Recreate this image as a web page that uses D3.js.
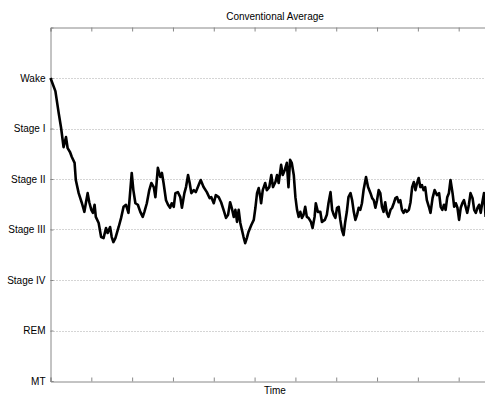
<!DOCTYPE html>
<html>
<head>
<meta charset="utf-8">
<script src="https://cdn.jsdelivr.net/npm/d3@7"></script>
<style>
  body { margin: 0; background: #fff; }
  svg { display: block; font-family: "Liberation Sans", Arial, sans-serif; }
</style>
</head>
<body>
<div id="svgRoot"></div>
<script>
// sleep stage levels, bottom to top
const stageLabels = ["MT", "REM", "Stage IV", "Stage III", "Stage II", "Stage I", "Wake"];
const timeTicks = [0, 1, 2, 3, 4, 5, 6, 7, 8, 9, 10, 11];

// averaged hypnogram, time (hours) and stage level
const time = [0, 0.12, 0.2, 0.26, 0.32, 0.38, 0.42, 0.48, 0.52, 0.59, 0.62, 0.69, 0.77, 0.83, 0.87, 0.91, 0.95, 1.0, 1.04, 1.08,
  1.11, 1.18, 1.24, 1.3, 1.36, 1.4, 1.46, 1.5, 1.54, 1.59, 1.67, 1.73, 1.79, 1.85, 1.91, 1.99, 2.03, 2.08, 2.14, 2.2,
  2.26, 2.3, 2.36, 2.42, 2.47, 2.53, 2.57, 2.63, 2.69, 2.73, 2.77, 2.83, 2.88, 2.93, 2.97, 3.02, 3.06, 3.12, 3.18, 3.22,
  3.28, 3.32, 3.37, 3.41, 3.45, 3.51, 3.56, 3.63, 3.68, 3.75, 3.83, 3.9, 3.94, 4.0, 4.05, 4.12, 4.18, 4.24, 4.3, 4.35,
  4.4, 4.44, 4.49, 4.53, 4.57, 4.61, 4.65, 4.69, 4.73, 4.77, 4.81, 4.85, 4.92, 4.98, 5.02, 5.06, 5.1, 5.14, 5.16, 5.2,
  5.26, 5.3, 5.36, 5.41, 5.45, 5.51, 5.55, 5.59, 5.65, 5.69, 5.74, 5.79, 5.83, 5.87, 5.91, 5.96, 6.0, 6.04, 6.08, 6.12,
  6.16, 6.2, 6.24, 6.28, 6.32, 6.38, 6.42, 6.47, 6.5, 6.55, 6.61, 6.65, 6.72, 6.77, 6.81, 6.86, 6.9, 6.94, 6.98, 7.02,
  7.06, 7.1, 7.14, 7.18, 7.22, 7.26, 7.3, 7.35, 7.39, 7.43, 7.47, 7.51, 7.55, 7.59, 7.63, 7.67, 7.73, 7.78, 7.84, 7.88,
  7.92, 7.96, 8.0, 8.04, 8.08, 8.12, 8.16, 8.2, 8.24, 8.28, 8.33, 8.37, 8.41, 8.45, 8.49, 8.53, 8.57, 8.61, 8.65, 8.69,
  8.73, 8.78, 8.82, 8.86, 8.9, 8.94, 8.98, 9.02, 9.06, 9.1, 9.14, 9.18, 9.22, 9.27, 9.31, 9.36, 9.41, 9.47, 9.52, 9.56,
  9.6, 9.64, 9.68, 9.72, 9.76, 9.8, 9.85, 9.89, 9.93, 9.97, 10.01, 10.05, 10.09, 10.13, 10.17, 10.21, 10.25, 10.29, 10.34, 10.38,
  10.42, 10.46, 10.5, 10.54, 10.58, 10.62, 10.66];
const stage = [6.0, 5.74, 5.31, 5.01, 4.63, 4.83, 4.61, 4.53, 4.44, 4.32, 3.98, 3.72, 3.52, 3.35, 3.54, 3.72, 3.54, 3.39, 3.33, 3.49,
  3.25, 3.13, 2.85, 2.83, 3.03, 2.93, 3.05, 2.85, 2.75, 2.83, 3.05, 3.23, 3.45, 3.49, 3.33, 4.12, 3.78, 3.52, 3.49, 3.35,
  3.25, 3.35, 3.52, 3.78, 3.92, 3.84, 3.64, 4.22, 4.04, 4.12, 3.92, 3.58, 3.49, 3.43, 3.52, 3.45, 3.72, 3.74, 3.64, 3.43,
  3.72, 3.84, 4.08, 3.92, 3.72, 3.78, 3.74, 3.88, 3.98, 3.84, 3.74, 3.62, 3.64, 3.52, 3.68, 3.64, 3.54, 3.39, 3.23, 3.29,
  3.54, 3.43, 3.25, 3.39, 3.15, 3.39, 3.13, 2.99, 2.85, 2.73, 2.83, 2.95, 3.09, 3.19, 3.43, 3.72, 3.82, 3.64, 3.52, 3.78,
  3.92, 3.78, 3.84, 4.08, 3.84, 3.94, 4.08, 3.92, 4.28, 4.08, 4.18, 4.32, 3.84, 4.38, 4.32, 4.08, 3.64, 3.39, 3.25, 3.35,
  3.23, 3.29, 3.45, 3.25, 3.23, 3.15, 3.03, 3.25, 3.52, 3.35, 3.35, 3.15, 3.19, 3.29, 3.52, 3.74, 3.39, 3.29, 3.23, 3.43,
  3.45, 3.19, 2.99, 2.89, 3.15, 3.35, 3.64, 3.72, 3.58, 3.35, 3.19, 3.29, 3.43, 3.39, 3.52, 3.78, 4.04, 3.84, 3.72, 3.62,
  3.58, 3.43, 3.58, 3.78, 3.72, 3.45, 3.35, 3.54, 3.33, 3.25, 3.39, 3.43, 3.52, 3.62, 3.64, 3.54, 3.58, 3.39, 3.33, 3.39,
  3.35, 3.39, 3.54, 3.84, 3.94, 3.78, 3.92, 4.02, 3.84, 3.88, 3.78, 3.84, 3.58, 3.45, 3.33, 3.62, 3.78, 3.68, 3.72, 3.45,
  3.39, 3.49, 3.39, 3.64, 3.72, 3.98, 3.72, 3.45, 3.52, 3.43, 3.19, 3.43, 3.52, 3.58, 3.45, 3.33, 3.49, 3.72, 3.62, 3.39,
  3.33, 3.43, 3.49, 3.33, 3.54, 3.72, 3.25];

const W = 485, H = 395;
const margin = { top: 27.5, left: 50.5, bottom: 14 };
const plotRight = 499.5;

const svg = d3.select("#svgRoot").append("svg")
  .attr("width", W).attr("height", H);

const x = d3.scaleLinear().domain([0, 11]).range([margin.left, plotRight]);
const y = d3.scaleLinear().domain([0, 7]).range([H - margin.bottom, margin.top]);

// dotted grid lines at each stage
svg.append("g")
  .selectAll("line")
  .data(d3.range(1, 7))
  .enter().append("line")
  .attr("x1", margin.left).attr("x2", plotRight)
  .attr("y1", d => Math.round(y(d)) + 0.5).attr("y2", d => Math.round(y(d)) + 0.5)
  .attr("stroke", "#aaa")
  .attr("stroke-dasharray", "1,2");

// bottom axis, ticks pointing inwards
const bottomAxis = svg.append("g")
  .attr("transform", "translate(0," + (Math.round(y(0)) + 0.5) + ")")
  .call(d3.axisBottom(x).tickValues(timeTicks).tickSize(-4).tickFormat(""));
// top axis
const topAxis = svg.append("g")
  .attr("transform", "translate(0," + margin.top + ")")
  .call(d3.axisTop(x).tickValues(timeTicks).tickSize(-4).tickFormat(""));
// left axis with stage names
const leftAxis = svg.append("g")
  .attr("transform", "translate(" + margin.left + ",0)")
  .call(d3.axisLeft(y).tickValues(d3.range(0, 7)).tickSize(-3).tickPadding(5)
    .tickFormat(d => stageLabels[d]));

[bottomAxis, topAxis, leftAxis].forEach(g => {
  g.select(".domain").attr("stroke", "#888");
  g.selectAll(".tick line").attr("stroke", "#888");
});
leftAxis.selectAll(".tick text")
  .attr("fill", "#000")
  .style("font-size", "10px")
  .style("font-family", "'Liberation Sans', Arial, sans-serif");

// hypnogram line
const line = d3.line()
  .x((d, i) => x(time[i]))
  .y(d => y(d));
svg.append("path")
  .attr("d", line(stage))
  .attr("fill", "none")
  .attr("stroke", "#000")
  .attr("stroke-width", 2.6)
  .attr("stroke-linejoin", "round");

// title and axis label
svg.append("text")
  .text("Conventional Average")
  .attr("x", (margin.left + plotRight) / 2)
  .attr("y", 20)
  .attr("text-anchor", "middle")
  .style("font-size", "10px");

svg.append("text")
  .text("Time")
  .attr("x", (margin.left + plotRight) / 2)
  .attr("y", 394)
  .attr("text-anchor", "middle")
  .style("font-size", "10px");
</script>
</body>
</html>
